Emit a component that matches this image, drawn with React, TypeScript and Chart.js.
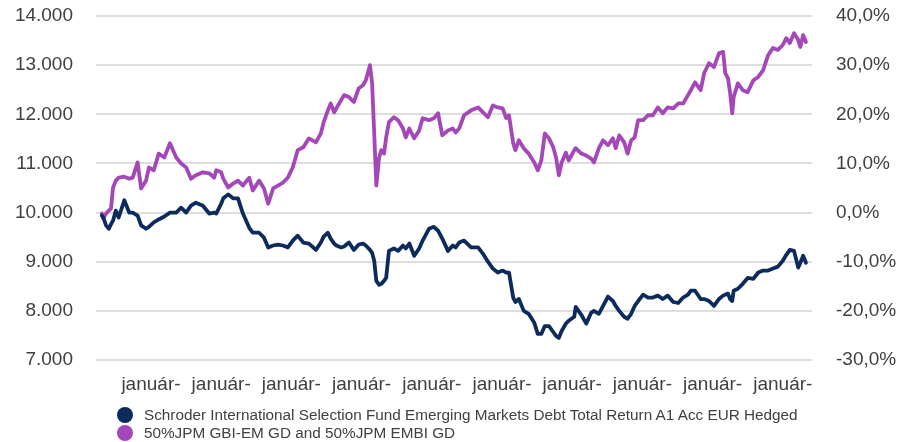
import React, { useEffect, useRef } from 'react';
import { Chart, registerables } from 'chart.js';

Chart.register(...registerables);

// decimal years of each observation
const dates = [
  2013.30, 2013.32, 2013.36, 2013.40, 2013.43, 2013.46, 2013.50, 2013.54, 2013.62, 2013.69,
  2013.74, 2013.81, 2013.86, 2013.93, 2013.97, 2014.04, 2014.11, 2014.19, 2014.27, 2014.36,
  2014.43, 2014.50, 2014.57, 2014.64, 2014.74, 2014.83, 2014.90, 2014.93, 2015.00, 2015.03,
  2015.10, 2015.17, 2015.24, 2015.31, 2015.40, 2015.45, 2015.54, 2015.61, 2015.67, 2015.74,
  2015.81, 2015.88, 2015.95, 2016.02, 2016.09, 2016.17, 2016.25, 2016.35, 2016.42, 2016.46,
  2016.52, 2016.56, 2016.61, 2016.64, 2016.71, 2016.75, 2016.82, 2016.89, 2016.96, 2017.02,
  2017.06, 2017.12, 2017.15, 2017.18, 2017.21, 2017.25, 2017.28, 2017.32, 2017.35, 2017.39,
  2017.46, 2017.52, 2017.59, 2017.63, 2017.68, 2017.75, 2017.82, 2017.87, 2017.96, 2018.03,
  2018.09, 2018.15, 2018.23, 2018.30, 2018.34, 2018.39, 2018.46, 2018.56, 2018.66, 2018.73,
  2018.80, 2018.87, 2018.94, 2019.01, 2019.06, 2019.10, 2019.16, 2019.19, 2019.24, 2019.31,
  2019.38, 2019.46, 2019.51, 2019.56, 2019.61, 2019.67, 2019.73, 2019.77, 2019.81, 2019.85,
  2019.91, 2019.95, 2020.03, 2020.05, 2020.13, 2020.20, 2020.27, 2020.31, 2020.38, 2020.44,
  2020.51, 2020.58, 2020.62, 2020.67, 2020.74, 2020.79, 2020.84, 2020.89, 2020.94, 2021.01,
  2021.08, 2021.15, 2021.22, 2021.29, 2021.36, 2021.44, 2021.51, 2021.58, 2021.65, 2021.69,
  2021.75, 2021.83, 2021.88, 2021.95, 2022.02, 2022.09, 2022.15, 2022.18, 2022.22, 2022.25,
  2022.28, 2022.30, 2022.36, 2022.43, 2022.50, 2022.58, 2022.65, 2022.72, 2022.79, 2022.86,
  2022.93, 2023.00, 2023.05, 2023.10, 2023.16, 2023.22, 2023.25, 2023.29, 2023.33,
];

const fundValues = [
  9940, 9900, 9740, 9670, 9760, 9840, 10040, 9900, 10250, 10000,
  10000, 9940, 9740, 9670, 9710, 9800, 9860, 9920, 10000, 10000,
  10100, 10000, 10140, 10200, 10140, 9980, 10000, 9980, 10180, 10290,
  10370, 10290, 10290, 9980, 9690, 9590, 9590, 9490, 9290, 9330,
  9350, 9330, 9290, 9430, 9530, 9390, 9370, 9240, 9390, 9510,
  9590, 9470, 9370, 9330, 9290, 9310, 9390, 9240, 9350, 9370,
  9330, 9240, 9180, 9020, 8610, 8530, 8550, 8610, 8670, 9220,
  9270, 9220, 9330, 9270, 9370, 9120, 9270, 9430, 9670, 9710,
  9630, 9470, 9220, 9330, 9290, 9390, 9430, 9290, 9290, 9160,
  9000, 8860, 8780, 8820, 8780, 8780, 8270, 8180, 8240, 8000,
  7940, 7760, 7530, 7530, 7690, 7690, 7570, 7490, 7450, 7590,
  7740, 7800, 7880, 8080, 7920, 7740, 7960, 8000, 7940, 8100,
  8290, 8200, 8100, 8000, 7880, 7840, 7940, 8100, 8200, 8330,
  8270, 8270, 8310, 8240, 8310, 8180, 8160, 8270, 8330, 8410,
  8410, 8240, 8240, 8200, 8100, 8240, 8310, 8330, 8350, 8240,
  8200, 8410, 8450, 8550, 8670, 8650, 8780, 8820, 8820, 8860,
  8900, 9020, 9140, 9240, 9220, 8880, 8980, 9120, 8980,
];

const benchmarkValues = [
  9980, 9880, 9980, 10040, 10080, 10510, 10650, 10710, 10730, 10690,
  10710, 11020, 10490, 10650, 10920, 10860, 11200, 11120, 11410, 11120,
  11000, 10920, 10690, 10760, 10820, 10800, 10710, 10860, 10820, 10690,
  10510, 10590, 10650, 10550, 10710, 10450, 10650, 10490, 10180, 10490,
  10550, 10610, 10710, 10920, 11270, 11330, 11510, 11430, 11610, 11840,
  12080, 12220, 12040, 12120, 12290, 12390, 12350, 12250, 12530, 12590,
  12690, 13000, 12630, 11610, 10550, 11120, 11270, 11200, 11530, 11840,
  11940, 11880, 11710, 11530, 11710, 11510, 11670, 11920, 11880, 11920,
  12020, 11570, 11670, 11710, 11630, 11710, 11980, 12080, 12140, 12040,
  11940, 12180, 12140, 12120, 11920, 11980, 11410, 11270, 11470, 11310,
  11200, 11020, 10860, 11060, 11610, 11510, 11330, 11120, 10760, 11020,
  11220, 11060, 11270, 11310, 11200, 11160, 11100, 11020, 11310, 11470,
  11370, 11510, 11310, 11570, 11430, 11200, 11470, 11530, 11880, 11880,
  11980, 11980, 12140, 12020, 12140, 12120, 12220, 12220, 12390, 12490,
  12650, 12490, 12840, 13040, 12960, 13240, 13270, 12840, 12730, 12430,
  12020, 12350, 12630, 12490, 12450, 12690, 12760, 12900, 13200, 13350,
  13310, 13410, 13550, 13450, 13650, 13510, 13370, 13610, 13470,
];

const januaryTicks = [2014, 2015, 2016, 2017, 2018, 2019, 2020, 2021, 2022, 2023];
const januaryLabel = 'január-';
const seriesNames = [
  'Schroder International Selection Fund Emerging Markets Debt Total Return A1 Acc EUR Hedged',
  '50%JPM GBI-EM GD and 50%JPM EMBI GD',
];
const seriesColors = ['#0c2b5c', '#a447b9'];

const FONT = '"Liberation Sans", Arial, Helvetica, sans-serif';
const TEXT = '#404040';

function thousands(v: number): string {
  return String(Math.round(v)).replace(/\B(?=(\d{3})+(?!\d))/g, '.');
}

export default function App() {
  const ref = useRef<HTMLCanvasElement>(null);

  useEffect(() => {
    const canvas = ref.current;
    if (!canvas) return;
    const fundData = dates.map((d, i) => ({ x: d, y: fundValues[i] }));
    const benchData = dates.map((d, i) => ({ x: d, y: benchmarkValues[i] }));
    const lineStyle = {
      borderWidth: 3.8,
      pointRadius: 0,
      tension: 0,
      borderJoinStyle: 'round' as const,
      borderCapStyle: 'round' as const,
      yAxisID: 'y',
    };
    const chart = new Chart(canvas, {
      type: 'line',
      data: {
        datasets: [
          {
            label: seriesNames[0],
            data: fundData,
            borderColor: seriesColors[0],
            backgroundColor: seriesColors[0],
            ...lineStyle,
          },
          {
            label: seriesNames[1],
            data: benchData,
            borderColor: seriesColors[1],
            backgroundColor: seriesColors[1],
            ...lineStyle,
          },
        ],
      },
      options: {
        animation: false,
        responsive: true,
        maintainAspectRatio: false,
        layout: { padding: { top: 16, left: 0, right: 0, bottom: 0 } },
        plugins: { legend: { display: false }, tooltip: { enabled: false } },
        scales: {
          x: {
            type: 'linear',
            min: 2013.217,
            max: 2023.416,
            grid: { display: false },
            border: { display: false },
            afterBuildTicks: (scale: any) => {
              scale.ticks = januaryTicks.map((v) => ({ value: v }));
            },
            afterFit: (scale: any) => {
              scale.height = 82;
              scale.paddingLeft = 0;
              scale.paddingRight = 0;
            },
            ticks: {
              autoSkip: false,
              maxRotation: 0,
              padding: 5,
              color: TEXT,
              font: { family: FONT, size: 19 },
              callback: () => januaryLabel,
            },
          },
          y: {
            type: 'linear',
            position: 'left',
            min: 7000,
            max: 14000,
            border: { display: false },
            grid: { color: '#dedede', lineWidth: 2, drawTicks: false },
            afterFit: (scale: any) => {
              scale.width = 96;
              scale.paddingTop = 0;
              scale.paddingBottom = 0;
            },
            ticks: {
              stepSize: 1000,
              padding: 23,
              color: TEXT,
              font: { family: FONT, size: 19 },
              callback: (v: any) => thousands(Number(v)),
            },
          },
          y1: {
            type: 'linear',
            position: 'right',
            display: true,
            min: -30,
            max: 40,
            border: { display: false },
            grid: { display: false, drawTicks: false },
            afterFit: (scale: any) => {
              scale.width = 86;
              scale.paddingTop = 0;
              scale.paddingBottom = 0;
            },
            ticks: {
              stepSize: 10,
              padding: 24,
              color: TEXT,
              font: { family: FONT, size: 19 },
              callback: (v: any) => Number(v).toFixed(1).replace('.', ',') + '%',
            },
          },
        },
      },
    });
    return () => chart.destroy();
  }, []);

  return (
    <div
      style={{
        position: 'fixed',
        left: 0,
        top: 0,
        width: 898,
        height: 442,
        background: '#ffffff',
        overflow: 'hidden',
      }}
    >
      <canvas ref={ref} style={{ display: 'block' }} />
      <div style={{ position: 'absolute', left: 117, top: 406, fontFamily: FONT, fontSize: 15.3, color: TEXT }}>
        {seriesNames.map((name, i) => (
          <div key={name} style={{ display: 'flex', alignItems: 'center', height: 18, whiteSpace: 'nowrap' }}>
            <span
              style={{
                display: 'inline-block',
                width: 16,
                height: 16,
                borderRadius: '50%',
                background: seriesColors[i],
                marginRight: 11,
                flex: '0 0 auto',
              }}
            />
            <span>{name}</span>
          </div>
        ))}
      </div>
    </div>
  );
}
